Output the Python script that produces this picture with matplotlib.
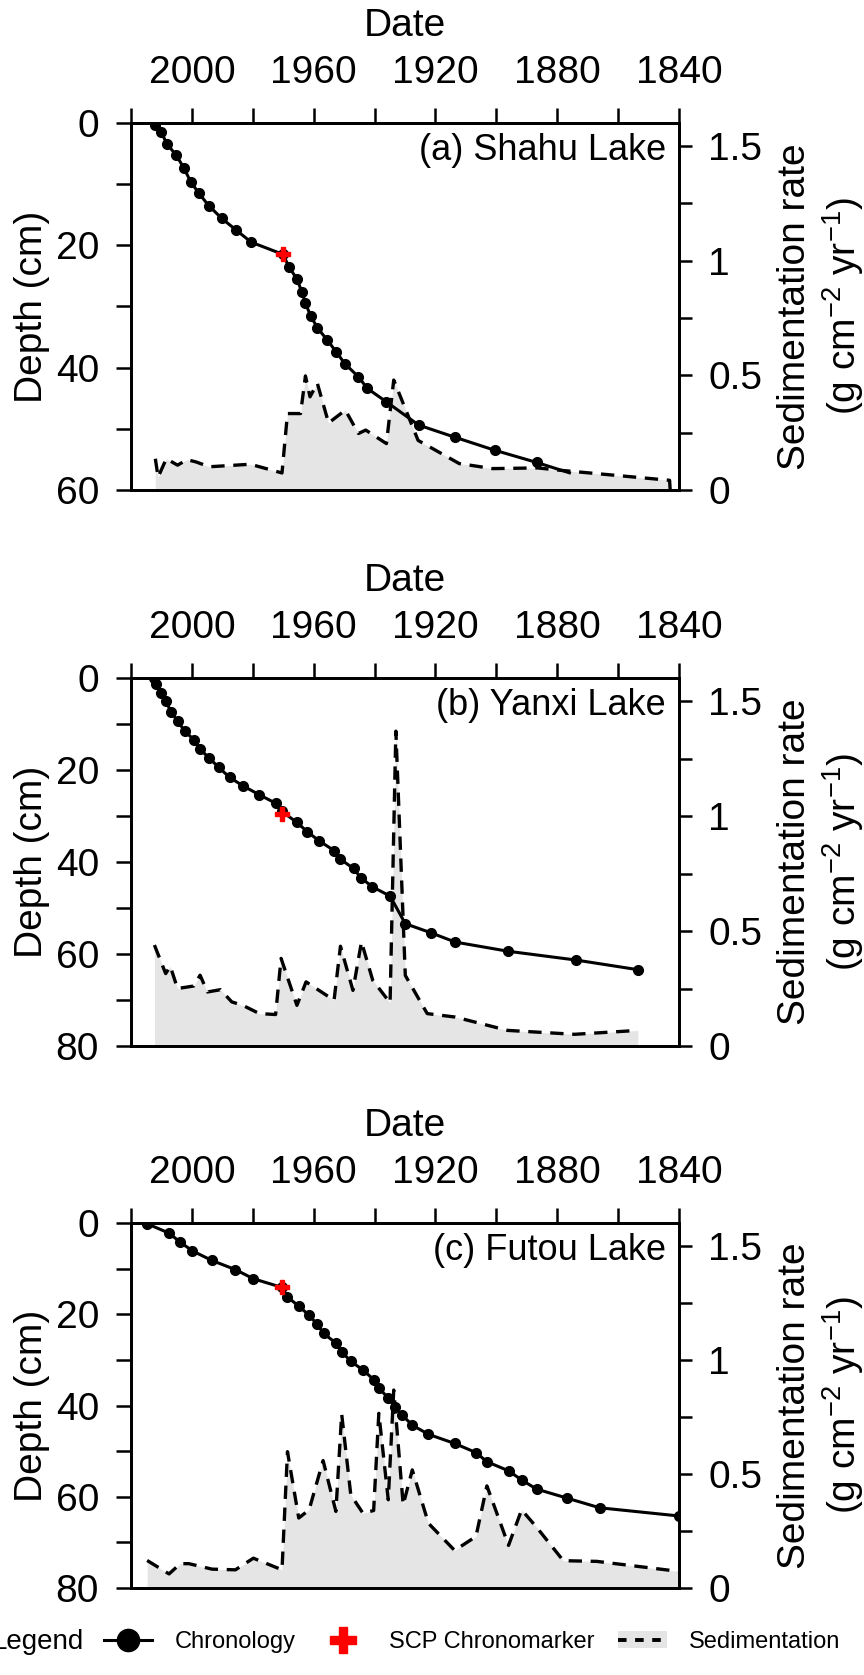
import matplotlib
matplotlib.use('Agg')
import matplotlib.pyplot as plt
from matplotlib.lines import Line2D
from matplotlib.patches import Patch

plt.rcParams['font.family'] = ['Liberation Sans', 'DejaVu Sans']
plt.rcParams['mathtext.fontset'] = 'custom'
plt.rcParams['mathtext.rm'] = 'Liberation Sans'
plt.rcParams['mathtext.it'] = 'Liberation Sans:italic'

# ---- (a) Shahu Lake ----
shahu_year = [2012.0, 2010.2, 2008.1, 2005.1, 2002.6, 2000.4, 1997.7, 1994.5, 1990.2, 1985.5,
              1980.5, 1970.0, 1968.2, 1965.5, 1963.9, 1962.7, 1961.0, 1958.8, 1955.5, 1952.5,
              1949.7, 1945.3, 1942.4, 1936.1, 1925.5, 1913.5, 1900.6, 1886.8, 1876.0]
shahu_depth = [0.3, 1.4, 3.5, 5.3, 7.4, 9.6, 11.5, 13.5, 15.6, 17.5,
               19.5, 21.5, 23.5, 25.5, 27.6, 29.5, 31.5, 33.5, 35.5, 37.5,
               39.4, 41.5, 43.4, 45.6, 49.4, 51.4, 53.5, 55.5, 57.2]
shahu_scp = (1970.0, 21.5)
shahu_sed_year = [2012.0, 2011.1, 2008.4, 2004.7, 2001.6, 1998.6, 1994.3, 1980.8, 1970.4, 1968.6,
                  1964.3, 1962.7, 1961.2, 1958.8, 1955.1, 1949.6, 1945.3, 1942.9, 1936.1, 1933.7,
                  1925.7, 1912.2, 1901.2, 1886.5, 1879.2, 1843.1, 1842.9]
shahu_sed = [0.136, 0.056, 0.136, 0.108, 0.132, 0.122, 0.101, 0.112, 0.074, 0.333,
             0.333, 0.497, 0.406, 0.465, 0.292, 0.348, 0.246, 0.261, 0.202, 0.479,
             0.216, 0.115, 0.093, 0.096, 0.086, 0.042, 0.0]

# ---- (b) Yanxi Lake ----
yanxi_year = [2012.3, 2011.7, 2010.2, 2008.6, 2006.8, 2004.7, 2002.2, 1999.4, 1997.3, 1994.3,
              1991.2, 1987.6, 1983.3, 1977.8, 1972.5, 1970.4, 1965.5, 1962.1, 1958.2, 1953.3,
              1951.2, 1946.9, 1944.5, 1940.7, 1934.9, 1929.9, 1921.4, 1913.5, 1896.1, 1873.9,
              1853.5]
yanxi_depth = [0.0, 1.2, 3.3, 5.1, 7.3, 9.4, 11.6, 13.4, 15.5, 17.4,
               19.4, 21.6, 23.4, 25.4, 27.2, 29.0, 31.4, 33.4, 35.4, 37.5,
               39.4, 41.4, 43.4, 45.4, 47.4, 53.4, 55.4, 57.4, 59.4, 61.3,
               63.4]
yanxi_scp = (1970.4, 29.6)
yanxi_sed_year = [2012.3, 2008.6, 2007.1, 2004.7, 1999.4, 1997.3, 1994.9, 1990.6, 1986.9, 1983.3,
                  1977.8, 1972.5, 1970.7, 1965.5, 1962.5, 1953.3, 1951.2, 1947.1, 1944.3, 1940.6,
                  1934.9, 1933.0, 1929.9, 1922.7, 1913.5, 1896.3, 1874.3, 1853.5]
yanxi_sed = [0.439, 0.315, 0.347, 0.250, 0.261, 0.308, 0.235, 0.245, 0.192, 0.177,
             0.141, 0.137, 0.381, 0.177, 0.279, 0.199, 0.434, 0.242, 0.453, 0.286,
             0.188, 1.369, 0.307, 0.141, 0.126, 0.068, 0.051, 0.068]

# ---- (c) Futou Lake ----
futou_year = [2014.7, 2007.5, 2003.8, 1999.8, 1993.4, 1985.7, 1979.8, 1970.4, 1968.6, 1964.9,
              1961.5, 1958.8, 1956.7, 1952.7, 1950.8, 1947.8, 1943.8, 1940.3, 1938.6, 1935.5,
              1933.4, 1930.9, 1927.6, 1922.3, 1913.7, 1906.7, 1903.1, 1896.0, 1891.7, 1886.8,
              1876.7, 1866.1, 1840.0]
futou_depth = [0.15, 2.2, 4.2, 6.1, 8.2, 10.2, 12.2, 14.1, 16.2, 18.2,
               20.2, 22.2, 24.2, 26.3, 28.2, 30.3, 32.2, 34.3, 36.2, 38.3,
               40.3, 42.1, 44.3, 46.3, 48.3, 50.3, 52.3, 54.3, 56.3, 58.3,
               60.3, 62.4, 64.2]
futou_scp = (1970.4, 14.1)
futou_sed_year = [2014.7, 2007.5, 2003.8, 2001.0, 1993.4, 1985.7, 1979.8, 1970.4, 1968.6, 1964.9,
                  1961.5, 1956.9, 1952.7, 1950.8, 1947.8, 1943.8, 1940.3, 1938.6, 1935.5, 1933.7,
                  1930.6, 1927.6, 1922.3, 1913.7, 1906.7, 1903.1, 1896.0, 1891.7, 1886.8, 1878.0,
                  1867.0, 1840.0]
futou_sed = [0.121, 0.062, 0.107, 0.107, 0.083, 0.080, 0.131, 0.080, 0.598, 0.307,
             0.343, 0.559, 0.336, 0.763, 0.408, 0.328, 0.340, 0.766, 0.387, 0.868,
             0.365, 0.518, 0.284, 0.165, 0.226, 0.448, 0.187, 0.343, 0.267, 0.120,
             0.117, 0.073]

year_ticks = [2020, 2000, 1980, 1960, 1940, 1920, 1900, 1880, 1860, 1840]
year_labels = ['', '2000', '', '1960', '', '1920', '', '1880', '', '1840']
rate_ticks = [0, 0.25, 0.5, 0.75, 1.0, 1.25, 1.5]
rate_labels = ['0', '', '0.5', '', '1', '', '1.5']

FS = 28
GREY = '#e5e5e5'
DASH = (0, (4, 2.6))


def plot_panel(fig, rect, title, year, depth, scp, sed_year, sed, max_depth, last_marker=True):
    ax = fig.add_axes(rect)
    ax2 = ax.twinx()
    ax.set_zorder(ax2.get_zorder() + 1)
    ax.patch.set_visible(False)

    # sedimentation rate (right axis)
    ax2.fill_between(sed_year, sed, 0, color=GREY, lw=0)
    ax2.plot(sed_year, sed, color='black', lw=2.4, ls=DASH)
    ax2.set_ylim(0, 1.6)
    ax2.set_yticks(rate_ticks)
    ax2.set_yticklabels(rate_labels)
    ax2.tick_params(axis='y', direction='out', length=9, width=1.8, pad=12, labelsize=FS)
    ax2.set_ylabel('Sedimentation rate\n(g cm$^{-2}$ yr$^{-1}$)', fontsize=FS)
    ax2.yaxis.set_label_coords(1.178, 0.5)

    # chronology (left axis)
    n = len(year) if last_marker else len(year) - 1
    ax.plot(year, depth, color='black', lw=2.2, marker='o', ms=7, markevery=list(range(n)))
    ax.plot([scp[0]], [scp[1]], ls='none', marker='P', color='red', ms=10)
    ax.set_xlim(2020, 1840)
    ax.set_ylim(max_depth, 0)

    depth_ticks = list(range(0, max_depth + 1, 10))
    ax.set_yticks(depth_ticks)
    ax.set_yticklabels([str(d) if d % 20 == 0 else '' for d in depth_ticks])
    ax.set_xticks(year_ticks)
    ax.set_xticklabels(year_labels)
    ax.xaxis.tick_top()
    ax.xaxis.set_label_position('top')
    ax.tick_params(axis='x', direction='out', length=11, width=1.8, pad=12, labelsize=FS)
    ax.tick_params(axis='y', direction='out', length=11, width=1.8, pad=12, labelsize=FS)
    ax.set_xlabel('Date', fontsize=FS, labelpad=14)
    ax.set_ylabel('Depth (cm)', fontsize=FS)
    ax.yaxis.set_label_coords(-0.148, 0.5)

    for a in (ax, ax2):
        for s in a.spines.values():
            s.set_linewidth(2)

    ax.text(0.976, 0.925, title, transform=ax.transAxes, ha='right', va='center', fontsize=26)


fig = plt.figure(figsize=(8.64, 16.75), dpi=100)

plot_panel(fig, [0.1516, 0.7075, 0.6343, 0.2191], '(a) Shahu Lake',
           shahu_year, shahu_depth, shahu_scp, shahu_sed_year, shahu_sed, 60, last_marker=False)
plot_panel(fig, [0.1516, 0.3755, 0.6343, 0.2197], '(b) Yanxi Lake',
           yanxi_year, yanxi_depth, yanxi_scp, yanxi_sed_year, yanxi_sed, 80)
plot_panel(fig, [0.1516, 0.0519, 0.6343, 0.2179], '(c) Futou Lake',
           futou_year, futou_depth, futou_scp, futou_sed_year, futou_sed, 80)

# legend row at the bottom
handles = [
    Line2D([], [], color='black', lw=2.2, marker='o', ms=16),
    Line2D([], [], ls='none', marker='P', color='red', ms=19),
    (Patch(facecolor=GREY, edgecolor='none'), Line2D([], [], color='black', lw=2.8, ls=(0, (2.2, 2.2)))),
]
labels = ['Chronology', 'SCP Chronomarker', 'Sedimentation']
leg_y = 1 - 1642 / 1675
fig.legend(handles, labels, loc='center left', bbox_to_anchor=(104 / 864, leg_y), ncol=3,
           frameon=False, fontsize=17, handlelength=2.05, handletextpad=0.93,
           columnspacing=1.0, borderpad=0, borderaxespad=0)
# the reference crops the leading "L" at the figure edge
fig.text(84 / 864, leg_y, 'Legend', ha='right', va='center', fontsize=20)

fig.savefig('out.png', dpi=100)
